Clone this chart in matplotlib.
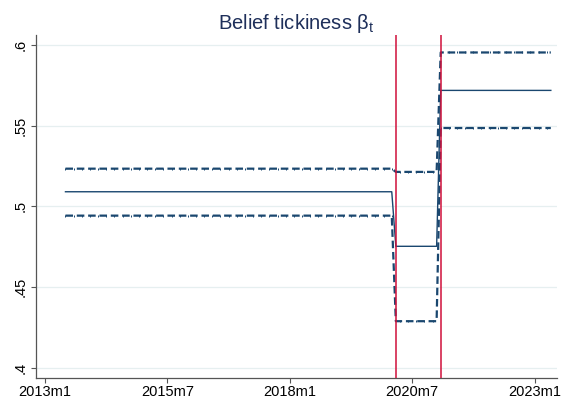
import numpy as np
import matplotlib.pyplot as plt

plt.rcParams['font.family'] = ['Liberation Sans', 'DejaVu Sans']

# monthly dates in Stata %tm units (2013m1 = 636)
regime_start = [641, 722, 733]
regime_end = [721, 732, 760]
beta = [0.509, 0.4752, 0.5718]
beta_hi = [0.5233, 0.5213, 0.5953]
beta_lo = [0.4942, 0.4288, 0.5485]
break_dates = [722, 733]

tick_pos = [636, 666, 696, 726, 756]
tick_labels = ['2013m1', '2015m7', '2018m1', '2020m7', '2023m1']
ytick_pos = [0.4, 0.45, 0.5, 0.55, 0.6]
ytick_labels = ['.4', '.45', '.5', '.55', '.6']

def monthly(values):
    t, v = [], []
    for s, e, val in zip(regime_start, regime_end, values):
        months = np.arange(s, e + 1)
        t.extend(months)
        v.extend([val] * len(months))
    return np.array(t), np.array(v)

navy = '#1a476f'
red = '#d0103a'

fig = plt.figure(figsize=(5.62, 4.0), dpi=100)
ax = fig.add_axes([0.0635, 0.0558, 0.9275, 0.8562])

t, b = monthly(beta)
_, hi = monthly(beta_hi)
_, lo = monthly(beta_lo)

for band in (hi, lo):
    ax.plot(t, band, color=navy, lw=1.6, ls=(0, (3.4, 1.7)),
            marker='|', ms=1.8, mew=0.7, markevery=2, zorder=3)
ax.plot(t, b, color=navy, lw=1.0, zorder=4)

for d in break_dates:
    ax.axvline(d, color=red, lw=1.1, zorder=5)

ax.set_xlim(633.7, 761.5)
ax.set_ylim(0.3938, 0.606)
ax.set_xticks(tick_pos)
ax.set_xticklabels(tick_labels, fontsize=10.5)
ax.set_yticks(ytick_pos)
ax.set_yticklabels(ytick_labels, fontsize=10.5, rotation=90, va='center')

ax.grid(axis='y', color='#e6eff0', lw=0.9)
ax.set_axisbelow(True)
for side in ('top', 'right'):
    ax.spines[side].set_visible(False)
for side in ('left', 'bottom'):
    ax.spines[side].set_color('#555555')
    ax.spines[side].set_linewidth(0.9)
ax.tick_params(length=3.5, width=0.8, color='#555555', pad=2)

ax.set_title(r'Belief tickiness $\mathregular{\beta_t}$', fontsize=14.5,
             color='#1e2f5a', pad=4)

fig.savefig('out.png', dpi=100)
